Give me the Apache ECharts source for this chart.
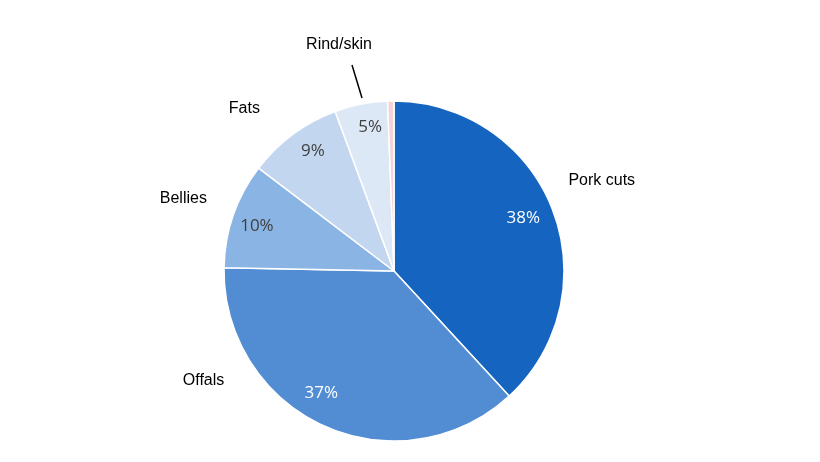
<!DOCTYPE html>
<html><head><meta charset="utf-8">
<script src="https://cdn.jsdelivr.net/npm/echarts@6/dist/echarts.min.js"></script>
<style>html,body{margin:0;background:#fff}#c{width:820px;height:462px}</style>
</head><body><div id="c"></div>
<script>
const categories = ['Pork cuts','Offals','Bellies','Fats','Rind/skin','Other'];
const values = [38,37,10,9,5,0.6];
const pctLabels = ['38%','37%','10%','9%','5%',''];
const colors = ['#1565C0','#528DD4','#8AB4E3','#C3D6EF','#DDE8F6','#F2D4D4'];
const pctColors = ['#fff','#fff','#404040','#404040','#404040','#404040'];
const pctOffsets = [[-4,-1],[-14,-8],[-2,2],[4,-5],[4,-4],[0,0]];
const nameOffsets = [[0,-9],[-99,-94],[0,1],[-17,17],[0,0],[0,0]];
const center = [394,271];
const chart = echarts.init(document.getElementById('c'));
chart.setOption({
  animation:false,
  series:[
    {type:'pie',center,radius:170,startAngle:90,clockwise:true,silent:true,avoidLabelOverlap:false,
     itemStyle:{borderColor:'#fff',borderWidth:1.5},
     labelLayout:function(p){ if(p.dataIndex===4) return {x:339,y:45,align:'center',verticalAlign:'middle',labelLinePoints:[[362,98],[352,65],[352,65]]}; },
     data:categories.map((n,i)=>({name:n,value:values[i],itemStyle:{color:colors[i]},
       label:{show:i===4,position:'outside',formatter:'{b}',color:'#000',fontSize:16,fontFamily:'Liberation Sans'},
       labelLine:{show:i===4,length:32,length2:0,lineStyle:{color:'#000',width:1.5}}}))},
    {type:'pie',center,radius:[0,280],startAngle:90,silent:true,avoidLabelOverlap:false,
     itemStyle:{color:'transparent'},
     data:categories.map((n,i)=>({name:n,value:values[i],
       label:{show:true,position:'inside',offset:pctOffsets[i],formatter:pctLabels[i],color:pctColors[i],fontSize:17,fontFamily:'Open Sans'}}))},
    {type:'pie',center,radius:[0,440],startAngle:90,silent:true,avoidLabelOverlap:false,
     itemStyle:{color:'transparent'},
     data:categories.map((n,i)=>({name:n,value:values[i],
       label:{show:i<4,position:'inside',offset:nameOffsets[i],formatter:'{b}',color:'#000',fontSize:16,fontFamily:'Liberation Sans'}}))}
  ]
});
</script></body></html>
